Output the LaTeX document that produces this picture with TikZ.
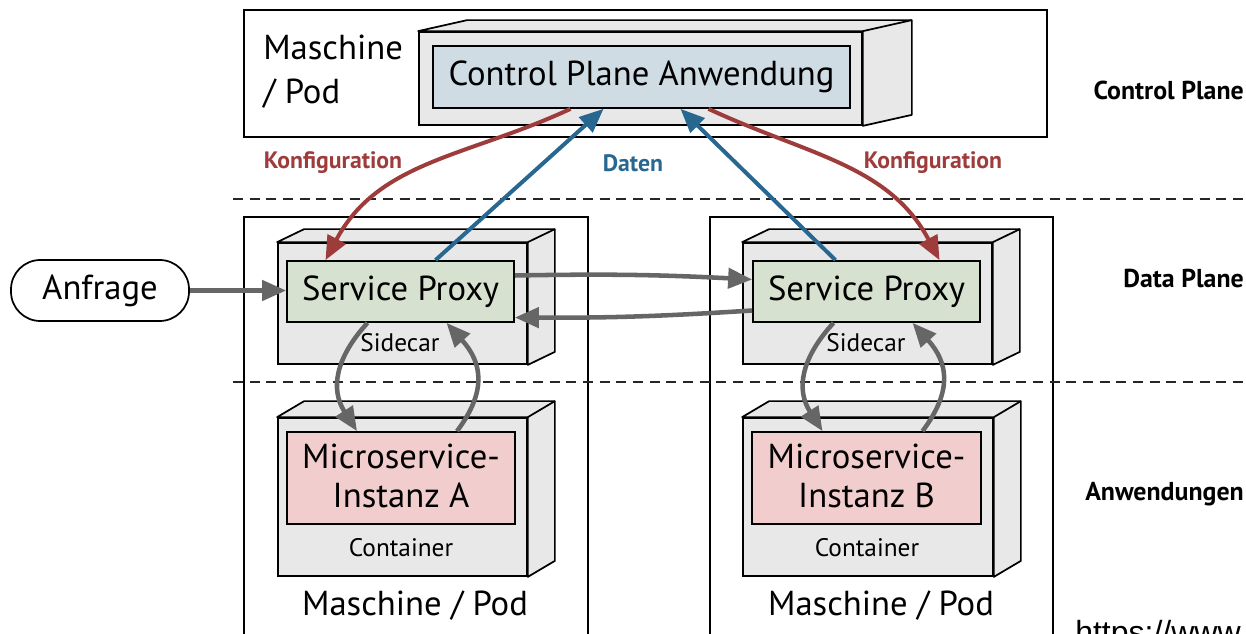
\documentclass[tikz,border=0pt]{standalone}
\usepackage{fontspec}
\setmainfont{PT Sans}
\newfontfamily\urlfont{Liberation Sans}
\usetikzlibrary{arrows.meta,calc,fit}
\definecolor{boxgray}{HTML}{E8E8E8}
\definecolor{proxygreen}{HTML}{D7E1CF}
\definecolor{cpblue}{HTML}{CFDCE3}
\definecolor{mspink}{HTML}{F2CDCD}
\definecolor{cfgred}{HTML}{9E3C3C}
\definecolor{datblue}{HTML}{286790}
\definecolor{arrgray}{HTML}{666666}
\newcommand{\cubeside}[3]{%
  \filldraw[fill=boxgray, draw=black, line width=1.3pt, line join=round]
    (#1.north west) -- ++(#2,-#3) -- ($(#1.north east)+(#2,-#3)$)
    -- ($(#1.south east)+(#2,-#3)$) -- (#1.south east) -- (#1.north east) -- cycle;
  \draw[line width=1.3pt] (#1.north east) -- ++(#2,-#3);
}
\begin{document}
\begin{tikzpicture}[x=0.75pt,y=-0.75pt,
  outerbox/.style={draw=black, line width=1.2pt, inner sep=0pt},
  face/.style={draw=black, fill=boxgray, line width=1.3pt, inner sep=0pt},
  innerbox/.style={draw=black, line width=1.3pt, inner sep=0pt},
  bigtxt/.style={font=\fontsize{26}{32}\selectfont, inner sep=0pt},
  smalltxt/.style={font=\fontsize{19}{22}\selectfont, inner sep=0pt},
  sidelbl/.style={font=\fontsize{19.4}{22}\selectfont\bfseries, inner sep=0pt, anchor=east},
  arrlbl/.style={font=\fontsize{17.8}{20}\selectfont\bfseries, inner sep=0pt},
  tip/.style={-{Triangle[length=18pt,width=15pt]}},
  cfgarrow/.style={tip, draw=cfgred, line width=3pt},
  datarrow/.style={tip, draw=datblue, line width=3pt},
  grayarrow/.style={tip, draw=arrgray, line width=3.4pt},
  divider/.style={draw=black!85, line width=1.2pt, dash pattern=on 7.5pt off 5pt}
]
\useasboundingbox (0,0) rectangle (1246,634);
\clip (0,0) rectangle (1246,634);

% outer machine boxes
\node[outerbox, fit={(244,10)(1047,137)}] (topmachine) {};
\node[outerbox, fit={(244,217)(588,660)}] (machA) {};
\node[outerbox, fit={(710,217)(1053,660)}] (machB) {};

% dividers
\coordinate (d1s) at (233,199); \coordinate (d1e) at (1246,199);
\coordinate (d2s) at (233,382); \coordinate (d2e) at (1246,382);
\draw[divider] (d1s) -- (d1e);
\draw[divider] (d2s) -- (d2e);

% control plane
\node[face, fit={(419,32)(862,125)}] (cpface) {};
\cubeside{cpface}{49}{11}
\node[innerbox, fill=cpblue, fit={(433,46)(850,108)}] (cpin) {};
\node[bigtxt] (cptxt) at (cpin.center) {Control Plane Anwendung};
\node[bigtxt, anchor=west, align=left] (tmtxt) at (263,72) {Maschine\\[1pt]/ Pod};

% sidecars
\node[face, fit={(278,243)(527,364)}] (scA) {};
\cubeside{scA}{27}{13}
\node[innerbox, fill=proxygreen, fit={(287,261)(514,322)}] (spA) {};
\node[bigtxt] (spAtxt) at (spA.center) {Service Proxy};
\node[smalltxt] (scAtxt) at (400,343) {Sidecar};

\node[face, fit={(743,243)(992,364)}] (scB) {};
\cubeside{scB}{27}{13}
\node[innerbox, fill=proxygreen, fit={(753,261)(980,322)}] (spB) {};
\node[bigtxt] (spBtxt) at (spB.center) {Service Proxy};
\node[smalltxt] (scBtxt) at (866,343) {Sidecar};

% containers
\node[face, fit={(278,418)(527,576)}] (ctA) {};
\cubeside{ctA}{27}{16}
\node[innerbox, fill=mspink, fit={(287,432)(515,524)}] (msA) {};
\node[bigtxt, align=center] (msAtxt) at ($(msA.center)+(0,-2)$) {Microservice-\\[-3pt]Instanz A};
\node[smalltxt] (ctAtxt) at (401,548) {Container};
\node[bigtxt] (mAtxt) at (415,606) {Maschine / Pod};

\node[face, fit={(743,418)(993,576)}] (ctB) {};
\cubeside{ctB}{27}{16}
\node[innerbox, fill=mspink, fit={(752,432)(981,524)}] (msB) {};
\node[bigtxt, align=center] (msBtxt) at ($(msB.center)+(0,-2)$) {Microservice-\\[-3pt]Instanz B};
\node[smalltxt] (ctBtxt) at (867,548) {Container};
\node[bigtxt] (mBtxt) at (881,606) {Maschine / Pod};

% request
\node[draw=black, line width=1.3pt, rounded corners=22pt, inner sep=0pt,
      fit={(11,260)(189,321)}] (anf) {};
\node[bigtxt] (anftxt) at (anf.center) {Anfrage};

% plane labels
\node[sidelbl] (lcp) at (1244,90) {Control Plane};
\node[sidelbl] (ldp) at (1244,279) {Data Plane};
\node[sidelbl] (lapp) at (1244,494) {Anwendungen};
\node[font=\urlfont\fontsize{24}{28}\selectfont, anchor=base west, inner sep=0pt] (url) at (1075,643) {https://www};

% arrow labels
\node[arrlbl, text=cfgred] (k1) at (333,163) {Konfiguration};
\node[arrlbl, text=datblue] (dt) at (633,163) {Daten};
\node[arrlbl, text=cfgred] (k2) at (933,163) {Konfiguration};

% control / data arrows
\draw[cfgarrow] ($(cpin.south)+(-71,0)$) to[out=205,in=62] ($(spA.north)+(-75,0)$);
\draw[datarrow] ($(spA.north)+(35,0)$) -- ($(cpin.south)+(-38,0)$);
\draw[datarrow] ($(spB.north)+(-31,0)$) -- ($(cpin.south)+(39,0)$);
\draw[cfgarrow] ($(cpin.south)+(67,0)$) to[out=-25,in=118] ($(spB.north)+(73,0)$);

% request and proxy-proxy
\draw[grayarrow] (anf.east) -- (anf.east -| spA.west);
\draw[grayarrow] ($(spA.east)+(0,-16)$) to[bend left=2] ($(spB.west)+(0,-12)$);
\draw[grayarrow] ($(spB.west)+(0,19)$) to[bend left=2] ($(spA.east)+(0,26)$);

% sidecar loops
\draw[grayarrow] ($(spA.south)+(-33,0)$) .. controls +(-32,35) and +(-27,-42) .. ($(msA.north)+(-44,0)$);
\draw[grayarrow] ($(msA.north)+(56,0)$) .. controls +(30,-40) and +(36,40) .. ($(spA.south)+(46,0)$);
\draw[grayarrow] ($(spB.south)+(-33,0)$) .. controls +(-32,35) and +(-27,-42) .. ($(msB.north)+(-44,0)$);
\draw[grayarrow] ($(msB.north)+(56,0)$) .. controls +(30,-40) and +(36,40) .. ($(spB.south)+(46,0)$);
\end{tikzpicture}
\end{document}
